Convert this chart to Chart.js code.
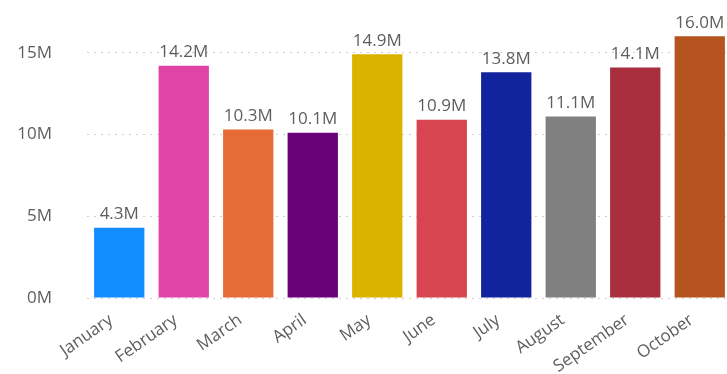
<!DOCTYPE html>
<html>
<head>
<meta charset="utf-8">
<script src="https://cdn.jsdelivr.net/npm/chart.js@4"></script>
<style>
  html, body { margin: 0; padding: 0; background: #fff; overflow: hidden; }
  #wrap { position: relative; width: 732px; height: 374px; }
</style>
</head>
<body>
<div id="wrap"><canvas id="salesChart"></canvas></div>
<script>
const months = ["January", "February", "March", "April", "May", "June", "July", "August", "September", "October"];
const salesM = [4.3, 14.2, 10.3, 10.1, 14.9, 10.9, 13.8, 11.1, 14.1, 16.0];
const barColors = ["#118DFF", "#E044A7", "#E66C37", "#6B007B", "#D9B300", "#D64550", "#12239E", "#808080", "#A92E3E", "#B5541F"];
const yTicks = [0, 5, 10, 15];

const FONT = "'Open Sans', 'Noto Sans', sans-serif";
const TEXT = "#605E5C";

// value labels above each bar
const barLabels = {
  id: "barLabels",
  afterDatasetsDraw(chart) {
    const ctx = chart.ctx;
    const meta = chart.getDatasetMeta(0);
    ctx.save();
    ctx.font = "17px " + FONT;
    ctx.fillStyle = TEXT;
    ctx.textAlign = "center";
    ctx.textBaseline = "bottom";
    meta.data.forEach((bar, i) => {
      ctx.fillText(salesM[i].toFixed(1) + "M", bar.x, bar.y - 5);
    });
    ctx.restore();
  },
};

new Chart(document.getElementById("salesChart"), {
  type: "bar",
  data: {
    labels: months,
    datasets: [
      {
        label: "Sales",
        data: salesM,
        backgroundColor: barColors,
        categoryPercentage: 0.78,
        barPercentage: 1.0,
      },
    ],
  },
  options: {
    responsive: true,
    maintainAspectRatio: false,
    animation: false,
    layout: { padding: { left: 0, top: 20, right: 0, bottom: 0 } },
    plugins: {
      legend: { display: false },
      tooltip: { enabled: false },
    },
    scales: {
      x: {
        afterFit(axis) { axis.height = 76; },
        grid: { display: false, drawTicks: false },
        border: { display: false },
        ticks: {
          color: TEXT,
          font: { family: FONT, size: 17 },
          minRotation: 35,
          maxRotation: 35,
          padding: 12,
          labelOffset: -8,
        },
      },
      y: {
        min: 0,
        max: 17,
        afterFit(axis) {
          axis.width = 87;
          // the big tick padding should not push the plot down
          axis.paddingTop = 0;
          axis.paddingBottom = 0;
        },
        afterBuildTicks(axis) {
          axis.ticks = yTicks.map((v) => ({ value: v }));
        },
        grid: { color: "#D0D0D0", drawTicks: false },
        border: { display: false, dash: [2, 5] },
        ticks: {
          color: TEXT,
          font: { family: FONT, size: 17 },
          padding: 35,
          callback: (v) => v + "M",
        },
      },
    },
  },
  plugins: [barLabels],
});
</script>
</body>
</html>
